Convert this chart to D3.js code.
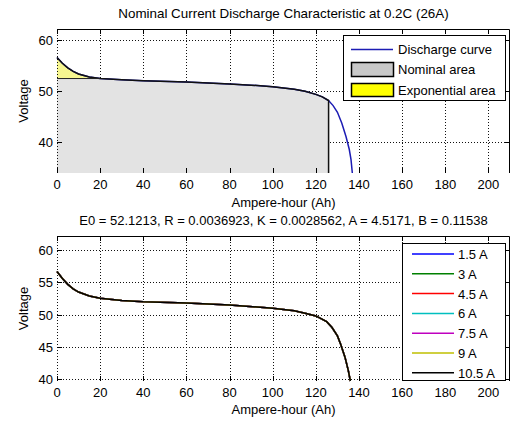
<!DOCTYPE html>
<html>
<head>
<meta charset="utf-8">
<script src="https://cdn.jsdelivr.net/npm/d3@7/dist/d3.min.js"></script>
<style>
    body { margin: 0; background: #fff; }
    text { font-family: "Liberation Sans", Arial, sans-serif; font-size: 13px; fill: #000; }
</style>
</head>
<body>
<svg id="chart" width="517" height="426"></svg>
<script>
// --- data ---
const xTicks = [0, 20, 40, 60, 80, 100, 120, 140, 160, 180, 200];
const topYTicks = [40, 50, 60];
const bottomYTicks = [40, 45, 50, 55, 60];

// nominal discharge curve at 26 A (top panel)
const dischargeAh = [0, 2.5, 5, 7.5, 10, 15, 20, 30, 40, 60, 80, 90, 100, 110, 115, 120, 123, 125.9, 128, 130, 132, 134, 135.5, 136.3, 136.9];
const dischargeVolt = [56.5, 55.4, 54.5, 53.8, 53.3, 52.7, 52.4, 52.15, 51.95, 51.7, 51.35, 51.1, 50.8, 50.3, 49.9, 49.3, 48.8, 48.1, 47.1, 45.8, 43.7, 41.0, 38.5, 36.5, 33.9];
const nominalEndAh = 125.9;
const expEndAh = 20;
const expVolt = 52.4;

// curves at several currents (bottom panel), they lie on top of each other
const currentNames = ['1.5 A', '3 A', '4.5 A', '6 A', '7.5 A', '9 A', '10.5 A'];
const currentAh = [0, 2.5, 5, 7.5, 10, 15, 20, 30, 40, 60, 80, 100, 110, 115, 120, 125, 127.5, 130, 131.5, 133.5, 135, 136];
const currentVolt = [56.7, 55.6, 54.7, 54.0, 53.5, 52.9, 52.55, 52.2, 52.0, 51.8, 51.5, 51.0, 50.6, 50.2, 49.8, 48.9, 48.0, 46.7, 45.4, 43.4, 41.4, 39.7];

const titleText = 'Nominal Current Discharge Characteristic at 0.2C (26A)';
const paramText = 'E0 = 52.1213, R = 0.0036923, K = 0.0028562, A = 4.5171, B = 0.11538';

// matlab default line colours
const currentColors = ['#0000ff', '#008000', '#ff0000', '#00bfbf', '#bf00bf', '#bfbf00', '#000000'];

const svg = d3.select('#chart');

function drawPanel(top, bottom, yDomain, yTicks) {
    let x = d3.scaleLinear().domain([0, 210]).range([57, 510]);
    let y = d3.scaleLinear().domain(yDomain).range([bottom, top]);
    let g = svg.append('g');

    // dotted grid
    let grid = g.append('g')
        .attr('stroke', '#111')
        .attr('stroke-width', 1)
        .attr('stroke-dasharray', '1,2');
    grid.selectAll('.gx').data(xTicks).join('line')
        .attr('x1', d => Math.round(x(d)) + 0.5).attr('x2', d => Math.round(x(d)) + 0.5)
        .attr('y1', top).attr('y2', bottom);
    grid.selectAll('.gy').data(yTicks).join('line')
        .attr('y1', d => Math.round(y(d)) + 0.5).attr('y2', d => Math.round(y(d)) + 0.5)
        .attr('x1', x(0)).attr('x2', x(210));

    return { x, y, g, top, bottom };
}

function drawFrame(p, yTicks) {
    let { x, y, g, top, bottom } = p;
    let fr = g.append('g').attr('stroke', '#000').attr('stroke-width', 1).attr('fill', 'none');
    // top and right edges solid
    fr.append('path').attr('d', `M${x(0) + 0.5},${top + 0.5}H${x(210) - 0.5}V${bottom}`);
    // ticks pointing inward
    xTicks.forEach(t => {
        let px = Math.round(x(t)) + 0.5;
        fr.append('line').attr('x1', px).attr('x2', px).attr('y1', bottom).attr('y2', bottom - 5);
        fr.append('line').attr('x1', px).attr('x2', px).attr('y1', top).attr('y2', top + 5);
    });
    yTicks.forEach(t => {
        let py = Math.round(y(t)) + 0.5;
        fr.append('line').attr('x1', x(0)).attr('x2', x(0) + 5).attr('y1', py).attr('y2', py);
        fr.append('line').attr('x1', x(210)).attr('x2', x(210) - 5).attr('y1', py).attr('y2', py);
    });

    // tick labels
    g.selectAll('.xl').data(xTicks).join('text')
        .attr('x', d => x(d)).attr('y', bottom + 16)
        .attr('text-anchor', 'middle')
        .text(d => d);
    g.selectAll('.yl').data(yTicks).join('text')
        .attr('x', 53).attr('y', d => y(d) + 5)
        .attr('text-anchor', 'end')
        .text(d => d);

    g.append('text')
        .attr('transform', `translate(28,${(top + bottom) / 2}) rotate(-90)`)
        .attr('text-anchor', 'middle')
        .text('Voltage');
}

function drawLegend(left, top, right, bottom) {
    return svg.append('rect')
        .attr('x', left + 0.5).attr('y', top + 0.5)
        .attr('width', right - left).attr('height', bottom - top)
        .attr('fill', '#fff').attr('stroke', '#000');
}

// ---------------- top panel ----------------
let pTop = drawPanel(29, 173, [33.9, 62.1], topYTicks);
let curve = dischargeAh.map((a, i) => [a, dischargeVolt[i]]);
let line = d3.line().x(d => pTop.x(d[0])).y(d => pTop.y(d[1]));

let nominalPts = [[0, 33.9], [0, expVolt]]
    .concat(curve.filter(d => d[0] >= expEndAh && d[0] <= nominalEndAh))
    .concat([[nominalEndAh, 33.9]]);
let expPts = curve.filter(d => d[0] <= expEndAh).concat([[0, expVolt]]);

pTop.g.append('path').attr('d', line(nominalPts) + 'Z').attr('fill', '#e3e3e3');
pTop.g.append('path').attr('d', line(expPts) + 'Z').attr('fill', '#f6f690');

pTop.g.append('path').attr('d', line(curve))
    .attr('fill', 'none').attr('stroke', '#1c1cb4').attr('stroke-width', 1.5);

// patch edges in black
pTop.g.append('path')
    .attr('d', line(curve.filter(d => d[0] <= nominalEndAh)) + `V${pTop.bottom}`)
    .attr('fill', 'none').attr('stroke', '#111').attr('stroke-width', 1.5);
pTop.g.append('path')
    .attr('d', line([[0, expVolt], [expEndAh, expVolt]]))
    .attr('fill', 'none').attr('stroke', '#222').attr('stroke-width', 1);
pTop.g.append('line')
    .attr('x1', pTop.x(0) + 0.5).attr('x2', pTop.x(0) + 0.5)
    .attr('y1', pTop.top).attr('y2', pTop.bottom)
    .attr('stroke', '#111').attr('stroke-dasharray', '1,2');
drawFrame(pTop, topYTicks);

drawLegend(343, 35, 505, 100);
svg.append('line').attr('x1', 351).attr('x2', 393).attr('y1', 49.5).attr('y2', 49.5)
    .attr('stroke', '#1c1cb4').attr('stroke-width', 1.5);
svg.append('rect').attr('x', 351.5).attr('y', 62.5).attr('width', 42).attr('height', 14)
    .attr('fill', '#c8c8c8').attr('stroke', '#000').attr('stroke-width', 1.5);
svg.append('rect').attr('x', 351.5).attr('y', 83.5).attr('width', 42).attr('height', 13)
    .attr('fill', '#ffff00').attr('stroke', '#000').attr('stroke-width', 1.5);
[['Discharge curve', 54], ['Nominal area', 74], ['Exponential area', 95]].forEach(([t, yy]) => {
    svg.append('text').attr('x', 398).attr('y', yy).text(t);
});

svg.append('text').attr('x', 283.5).attr('y', 18).attr('text-anchor', 'middle')
    .style('font-size', '13.4px').text(titleText);
svg.append('text').attr('x', 283.5).attr('y', 207).attr('text-anchor', 'middle').text('Ampere-hour (Ah)');
svg.append('text').attr('x', 283.5).attr('y', 225).attr('text-anchor', 'middle').text(paramText);

// ---------------- bottom panel ----------------
let pBot = drawPanel(236, 381, [39.7, 62.2], bottomYTicks);
let lineBot = d3.line().x(d => pBot.x(d[0])).y(d => pBot.y(d[1]));
let botCurve = currentAh.map((a, i) => [a, currentVolt[i]]);
let color = d3.scaleOrdinal().domain(currentNames).range(currentColors);

currentNames.forEach(name => {
    pBot.g.append('path').attr('d', lineBot(botCurve))
        .attr('fill', 'none').attr('stroke', color(name)).attr('stroke-width', 1.5);
});
drawFrame(pBot, bottomYTicks);

drawLegend(402, 243, 505, 380);
currentNames.forEach((name, i) => {
    let yy = 254 + i * 19.8;
    svg.append('line').attr('x1', 412).attr('x2', 454).attr('y1', yy).attr('y2', yy)
        .attr('stroke', color(name)).attr('stroke-width', 1.5);
    svg.append('text').attr('x', 458).attr('y', yy + 5).text(name);
});

svg.append('text').attr('x', 283.5).attr('y', 414).attr('text-anchor', 'middle').text('Ampere-hour (Ah)');
</script>
</body>
</html>
